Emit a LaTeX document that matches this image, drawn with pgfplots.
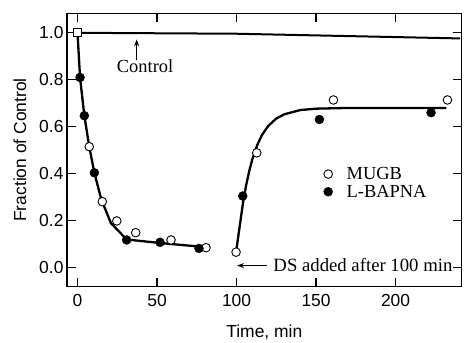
\documentclass[border=0pt]{standalone}
\usepackage{pgfplots}
\pgfplotsset{compat=1.18}
\usepackage{fontspec}
\setmainfont{Liberation Serif}
\setsansfont{Liberation Sans}
\usetikzlibrary{arrows.meta}
\begin{document}
\begin{tikzpicture}
\begin{axis}[
  scale only axis, width=394.6bp, height=273.4bp,
  xmin=-6.6, xmax=241.5, ymin=-0.081, ymax=1.083,
  xtick={0,50,100,150,200}, ytick={0,0.2,0.4,0.6,0.8,1.0},
  yticklabel style={/pgf/number format/.cd, fixed, fixed zerofill, precision=1},
  /pgf/number format/assume math mode=true,
  tick align=inside, major tick length=9bp,
  axis line style={line width=1.4bp}, tick style={line width=1.2bp, black},
  ticklabel style={font=\sffamily\fontsize{17.5}{20}\selectfont},
  xticklabel style={yshift=-4bp},
  xlabel={Time, min}, ylabel={Fraction of Control},
  label style={font=\sffamily\fontsize{17.5}{20}\selectfont},
  xlabel style={yshift=-11bp},
  ylabel style={yshift=6bp},
  legend style={draw=none, fill=none, at={(rel axis cs:0.65,0.445)}, anchor=north west,
    font=\fontsize{18.5}{21}\selectfont, inner sep=0pt, row sep=0pt,
    /tikz/every odd column/.append style={column sep=12bp}},
  legend cell align=left,
]
% control line
\addplot[line width=2bp, forget plot] coordinates {(0,1.0) (100,0.996) (240.5,0.976)};
% decay line
\addplot[line width=2.3bp, forget plot] coordinates {(0,1.0) (1.6,0.81) (4.3,0.647) (7.4,0.515) (10.6,0.404) (15.0,0.29) (21.0,0.19) (30.9,0.12) (51.9,0.105) (76.4,0.09)};
% recovery line
\addplot[line width=2.3bp, forget plot] coordinates {(99.7,0.066) (102,0.177) (104,0.273) (106,0.350) (108,0.412) (110,0.463) (113,0.522) (116,0.565) (120,0.604) (125,0.635) (130,0.653) (140,0.671) (150,0.677) (170,0.680) (232,0.680)};
% control square
\addplot[only marks, mark=square*, mark size=4bp, mark options={fill=white, draw=black, line width=0.8bp}, forget plot] coordinates {(0,1.0)};
% MUGB open
\addplot[only marks, mark=*, mark size=4.3bp, mark options={fill=white, draw=black, line width=0.9bp}] coordinates {
(7.4,0.515) (15.6,0.281) (24.7,0.199) (36.6,0.149) (58.8,0.118) (80.8,0.085)
(99.7,0.066) (112.7,0.489) (160.9,0.714) (232.6,0.714)};
\addlegendentry{MUGB}
% L-BAPNA filled
\addplot[only marks, mark=*, mark size=4.5bp, mark options={fill=black, draw=black}] coordinates {
(1.6,0.81) (4.3,0.647) (10.6,0.404) (30.9,0.118) (51.9,0.108) (76.4,0.082)
(103.9,0.305) (152.1,0.631) (222.3,0.660)};
\addlegendentry{L-BAPNA}
% annotations
\node[font=\fontsize{18.5}{21}\selectfont] at (axis cs:42.5,0.858) {Control};
\draw[-{Stealth[length=7bp,width=5bp]}, line width=1bp] (axis cs:37.2,0.884) -- (axis cs:37.2,0.972);
\node[font=\fontsize{18.8}{21}\selectfont, anchor=west, inner sep=0pt] at (axis cs:123.1,0.013) {DS added after 100 min};
\draw[-{Stealth[length=7bp,width=5bp]}, line width=1bp] (axis cs:119,0.009) -- (axis cs:100.3,0.009);
\end{axis}
\path ([xshift=-67bp,yshift=-52.3bp]current axis.south west) rectangle ([xshift=6.4bp,yshift=13.3bp]current axis.north east);
\end{tikzpicture}
\end{document}
